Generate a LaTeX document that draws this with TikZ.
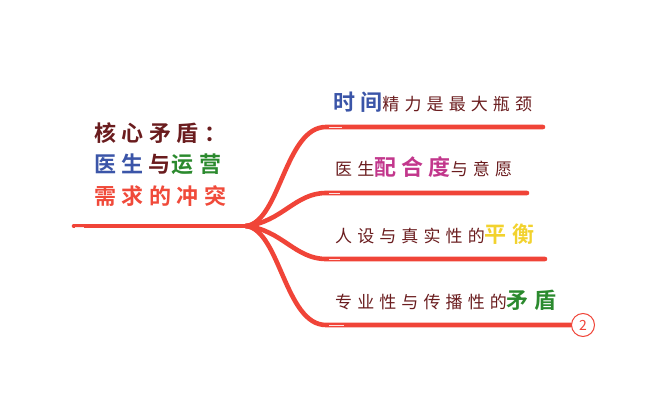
\documentclass[tikz,border=0pt]{standalone}
\usepackage{fontspec}
\setmainfont{Noto Sans CJK SC}
\newfontfamily\cjk[LetterSpace=30]{Noto Sans CJK SC}
\newfontfamily\cjkb[LetterSpace=24]{Noto Sans CJK SC Bold}
\newfontfamily\cjkroot[LetterSpace=25]{Noto Sans CJK SC Bold}
\begin{document}
\begin{tikzpicture}[x=1pt,y=-1pt,
  branch/.style={draw=linered,line width=4.6pt,line cap=round},
  shine/.style={draw=white,line width=0.7pt,opacity=0.85},
  lbl/.style={anchor=west,inner sep=0pt,text=maroon},
  roottxt/.style={anchor=west,inner sep=0pt,text=maroon,font=\cjkroot\fontsize{22}{26}\selectfont},
  badge/.style={circle,draw=linered,line width=1pt,fill=white,minimum size=23pt,inner sep=0pt,text=linered,font=\fontsize{14}{14}\selectfont}
]
\definecolor{linered}{HTML}{F04438}
\definecolor{maroon}{HTML}{6A1C1E}
\definecolor{cblue}{HTML}{3B55A8}
\definecolor{cgreen}{HTML}{2B8A2E}
\definecolor{cred}{HTML}{F04A3A}
\definecolor{cpink}{HTML}{C2378C}
\definecolor{cyellow}{HTML}{F2D22E}
\useasboundingbox (0,0) rectangle (669,412);
% root text
\node[roottxt] (r1) at (94,133) {核心矛盾：};
\node[roottxt,text=cblue] (r2a) at (94,164) {医生};
\node[roottxt] (r2b) at ([xshift=4pt]r2a.east) {与};
\node[roottxt,text=cgreen] (r2c) at ([xshift=1pt]r2b.east) {运营};
\node[roottxt,text=cred] (r3) at (94,196) {需求的冲突};
% skeleton
\coordinate (rs) at (74,226);
\coordinate (j) at (246,226);
\coordinate (b1) at (326,127);
\coordinate (e1) at (543,127);
\coordinate (b2) at (326,193);
\coordinate (e2) at (527,193);
\coordinate (b3) at (326,259);
\coordinate (e3) at (545,259);
\coordinate (b4) at (326,325);
\coordinate (e4) at (571,325);
\draw[branch] (rs) -- (j);
\draw[branch] (j) .. controls (280,222) and (285,127) .. (b1) -- (e1);
\draw[branch] (j) .. controls (282,222) and (295,193) .. (b2) -- (e2);
\draw[branch] (j) .. controls (282,230) and (295,259) .. (b3) -- (e3);
\draw[branch] (j) .. controls (280,230) and (285,325) .. (b4) -- (e4);
% highlights
\draw[shine] ([xshift=1pt,yshift=-1pt]rs) -- ([xshift=10pt,yshift=-1pt]rs);
\draw[shine] ([xshift=3pt,yshift=-0.8pt]b1) -- ([xshift=16pt,yshift=-0.8pt]b1);
\draw[shine] ([xshift=3pt,yshift=-0.8pt]b2) -- ([xshift=14pt,yshift=-0.8pt]b2);
\draw[shine] ([xshift=3pt,yshift=-0.8pt]b3) -- ([xshift=14pt,yshift=-0.8pt]b3);
\draw[shine] ([xshift=3pt,yshift=-0.8pt]b4) -- ([xshift=18pt,yshift=-0.8pt]b4);
\node[badge] (n2) at (583,325) {2};
% branch labels
\node[lbl] (t1) at (333,102) {{\cjkb\fontsize{22}{24}\selectfont\color{cblue}时间}{\cjk\fontsize{17}{20}\selectfont 精力是最大瓶颈}};
\node[lbl] (t2) at (335,167) {{\cjk\fontsize{17}{20}\selectfont 医生}{\cjkb\fontsize{22}{24}\selectfont\color{cpink}配合度}{\cjk\fontsize{17}{20}\selectfont 与意愿}};
\node[lbl] (t3) at (335,234) {{\cjk\fontsize{17}{20}\selectfont 人设与真实性的}{\cjkb\fontsize{22}{24}\selectfont\color{cyellow}平衡}};
\node[lbl] (t4) at (335,300) {{\cjk\fontsize{17}{20}\selectfont 专业性与传播性的}{\cjkb\fontsize{22}{24}\selectfont\color{cgreen}矛盾}};
\end{tikzpicture}
\end{document}
